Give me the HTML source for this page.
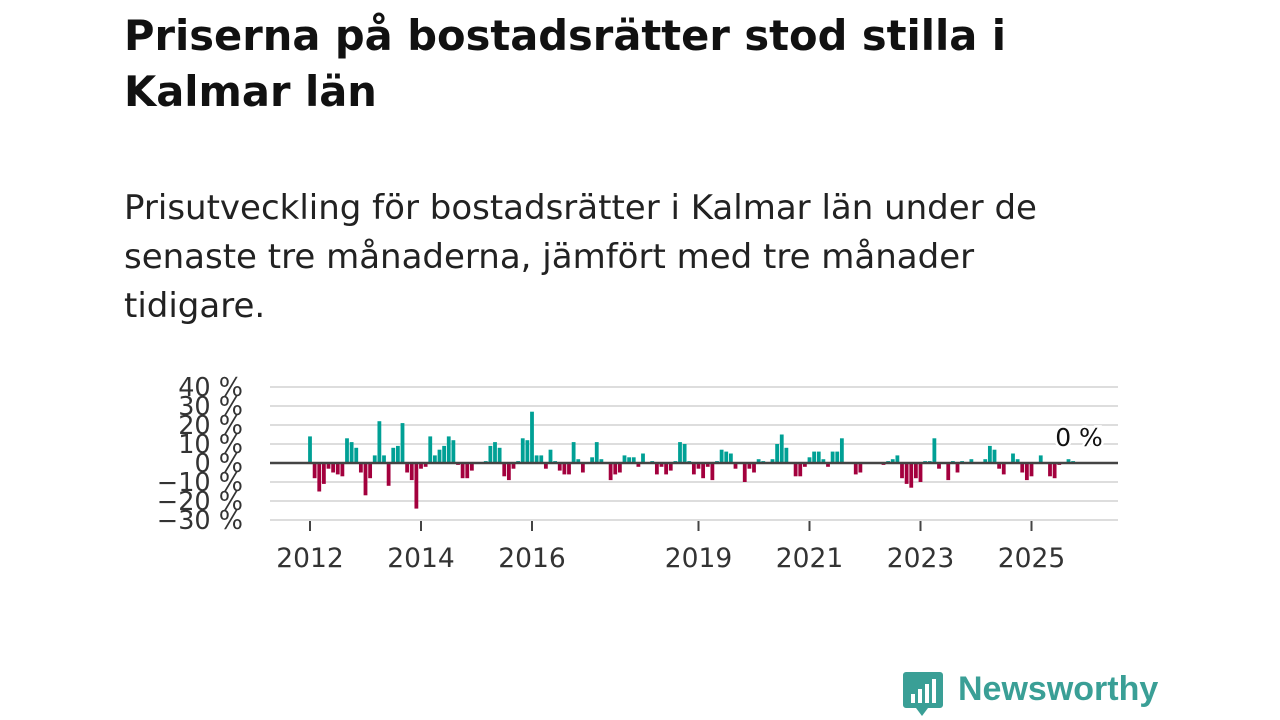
<!DOCTYPE html>
<html><head><meta charset="utf-8">
<style>
body{margin:0;width:1280px;height:720px;background:#fff;font-family:"DejaVu Sans","Liberation Sans",sans-serif;overflow:hidden;position:relative}
h1{position:absolute;left:124px;top:8px;margin:0;font-size:41.6px;line-height:56px;font-weight:bold;color:#111}
p.sub{position:absolute;left:124px;top:184px;margin:0;font-size:34px;line-height:49px;color:#222;white-space:nowrap}
.logo{position:absolute;left:958px;top:670px;font-size:34px;color:#3a9f96;font-weight:bold;font-family:"Liberation Sans",sans-serif}
</style></head><body>
<h1>Priserna på bostadsrätter stod stilla i<br>Kalmar län</h1>
<p class="sub">Prisutveckling för bostadsrätter i Kalmar län under de<br>senaste tre månaderna, jämfört med tre månader<br>tidigare.</p>
<svg id="chart" width="1280" height="720" style="position:absolute;left:0;top:0"></svg>
<svg width="42" height="48" style="position:absolute;left:902px;top:670px">
<path d="M4 2h34a3 3 0 0 1 3 3v30a3 3 0 0 1-3 3H26l-6 8-6-8H4a3 3 0 0 1-3-3V5a3 3 0 0 1 3-3z" fill="#3a9f96"/>
<rect x="9" y="24" width="4" height="9" fill="#fff"/><rect x="16" y="19" width="4" height="14" fill="#fff"/><rect x="23" y="14" width="4" height="19" fill="#fff"/><rect x="30" y="9" width="4" height="24" fill="#fff"/>
</svg>
<div class="logo">Newsworthy</div>
<script>
const values=[14,-8,-15,-11,-3,-5,-6,-7,13,11,8,-5,-17,-8,4,22,4,-12,8,9,21,-5,-9,-24,-3,-2,14,4,7,9,14,12,-1,-8,-8,-4,0,0,1,9,11,8,-7,-9,-3,1,13,12,27,4,4,-3,7,1,-4,
-6,-6,11,2,-5,0,3,11,2,0,-9,-6,-5,4,3,3,-2,5,0,1,-6,-2,-6,-4,1,11,10,1,-6,-3,-8,-2,-9,1,7,6,5,-3,0,-10,-3,-5,2,1,0,2,10,15,8,0,-7,-7,-2,3,6,6,2,-2,6,6,
13,0,0,-6,-5,0,0,0,0,-1,1,2,4,-8,-11,-13,-8,-10,1,1,13,-3,0,-9,1,-5,1,0,2,0,0,2,9,7,-3,-6,0,5,2,-5,-9,-7,0,4,0,-7,-8,-1,0,2,1];
const yTicks=[40,30,20,10,0,-10,-20,-30];
const xYears=[2012,2014,2016,2019,2021,2023,2025];
const startYear=2012;
const lastLabel="0 %";
const svg=document.getElementById('chart');
const NS='http://www.w3.org/2000/svg';
const y=v=>463-v*1.9;
const x=m=>310+m*4.625;
function mk(t,a){const e=document.createElementNS(NS,t);for(const k in a)e.setAttribute(k,a[k]);svg.appendChild(e);return e;}
yTicks.forEach(t=>{
  if(t!==0){const g=mk('line',{x1:270,x2:1118,y1:y(t),y2:y(t),stroke:'#ddd','stroke-width':2});
  
  }
  const l=mk('text',{x:243,y:y(t)+9,'text-anchor':'end','font-size':25.5,fill:'#333'});
  l.textContent=(t<0?'−'+(-t):t)+' %';
  
  
});
values.forEach((v,i)=>{
  if(v===0)return;
  const r=mk('rect',{x:x(i)-1.9,y:Math.min(y(v),y(0)),width:3.8,height:Math.abs(y(v)-y(0)),fill:v>0?'#00a095':'#a3003d'});
  
  
});
const z=mk('line',{x1:270,x2:1118,y1:y(0),y2:y(0),stroke:'#444','stroke-width':2.5});


xYears.forEach(yr=>{
  const xx=x((yr-startYear)*12);
  const t=mk('line',{x1:xx,x2:xx,y1:521,y2:531,stroke:'#444','stroke-width':2});
  
  
  const l=mk('text',{x:xx,y:567,'text-anchor':'middle','font-size':26.5,fill:'#333'});
  l.textContent=yr;
  
  
});
const lb=mk('text',{x:1079,y:446,'text-anchor':'middle','font-size':25,fill:'#111',stroke:'#fff','stroke-width':5,'paint-order':'stroke'});
lb.textContent=lastLabel;


</script>
</body></html>
